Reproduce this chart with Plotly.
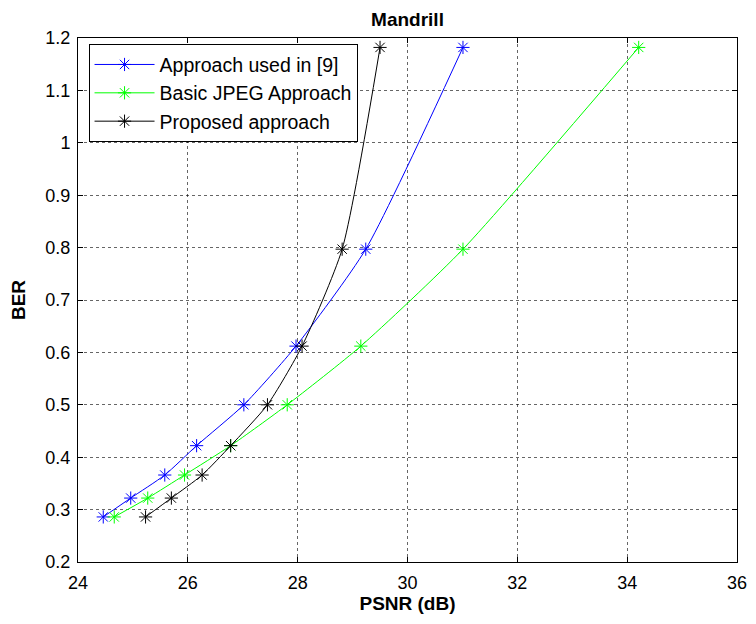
import plotly.graph_objects as go

ber = [0.286, 0.322, 0.366, 0.422, 0.5, 0.612, 0.797, 1.182]
psnr_ref9 = [24.46, 24.96, 25.58, 26.16, 27.02, 27.97, 29.24, 31.01]
psnr_jpeg = [24.66, 25.27, 25.94, 26.78, 27.81, 29.15, 31.01, 34.21]
psnr_prop = [25.23, 25.70, 26.26, 26.78, 27.45, 28.08, 28.81, 29.50]

series = [
    ("Approach used in [9]", psnr_ref9, "#0000ff"),
    ("Basic JPEG Approach", psnr_jpeg, "#00ff00"),
    ("Proposed approach", psnr_prop, "#000000"),
]

fig = go.Figure()
for name, xs, col in series:
    fig.add_trace(go.Scatter(
        x=xs, y=ber, name=name, mode="lines+markers",
        line=dict(color=col, width=1, shape="spline", smoothing=0.6),
        marker=dict(symbol="asterisk-open", size=11, color=col, line=dict(color=col, width=1)),
    ))

font = "Liberation Sans, Arial, sans-serif"
axis_common = dict(
    showline=True, linecolor="black", linewidth=1, mirror="ticks",
    ticks="inside", ticklen=5, tickcolor="black", automargin=False,
    showgrid=True, gridcolor="rgba(0,0,0,0.6)", griddash="dot", gridwidth=1,
    zeroline=False, tickfont=dict(family=font, size=18, color="black"),
)
fig.update_xaxes(range=[24, 36], dtick=2,
                 title=dict(text="<b>PSNR (dB)</b>", font=dict(family=font, size=19, color="black"), standoff=2),
                 ticklabelstandoff=4, **axis_common)
fig.update_yaxes(range=[0.2, 1.2], dtick=0.1, tickformat="~g",
                 title=dict(text="<b>BER</b>", font=dict(family=font, size=19, color="black"), standoff=17),
                 ticklabelstandoff=3, **axis_common)

fig.update_layout(
    width=740, height=608,
    margin=dict(l=70, r=11, t=30, b=54, autoexpand=False),
    paper_bgcolor="white", plot_bgcolor="white",
    title=dict(text="<b>Mandrill</b>", x=0.5, xref="paper", xanchor="center",
               yref="container", y=0.981, yanchor="middle",
               font=dict(family=font, size=19, color="black")),
    font=dict(family=font, color="black"),
    legend=dict(x=0.016, y=0.988, xanchor="left", yanchor="top",
                bordercolor="black", borderwidth=1, bgcolor="white",
                font=dict(family=font, size=19.5, color="black"),
                itemwidth=60, tracegroupgap=0),
    showlegend=True,
)

fig.write_html("out.html")
